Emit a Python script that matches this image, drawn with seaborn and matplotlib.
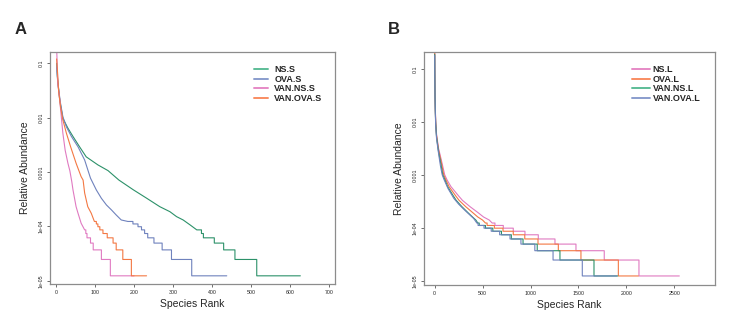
import numpy as np
import pandas as pd
import matplotlib
matplotlib.use("Agg")
import matplotlib.pyplot as plt
import seaborn as sns

# ---------------------------------------------------------------------------
# Rank-abundance data.  Each series: smooth head (rank, abundance knots),
# then the low-count tail as (level, last rank at that level) steps.
# ---------------------------------------------------------------------------
# abundance of a species seen 1..10 times (one read = 1.23e-5)
c1, c2, c3, c4, c5 = 1.23e-5, 2.46e-5, 3.69e-5, 4.92e-5, 6.15e-5
c6, c7, c8, c9, c10 = 7.38e-5, 8.61e-5, 9.84e-5, 1.107e-4, 1.23e-4

# ---- panel A (small intestine) ----
labels_a = ["NS.S", "OVA.S", "VAN.NS.S", "VAN.OVA.S"]

ns_s_rank = [1, 3, 9, 17, 30, 43, 60, 77, 107, 133, 161, 198, 232, 266, 292, 309, 326, 344, 361]
ns_s_abund = [0.1, 0.057, 0.021, 0.0097, 0.0064, 0.0045, 0.0029, 0.0019, 0.00135, 0.00106,
              7.1e-4, 4.7e-4, 3.3e-4, 2.3e-4, 1.86e-4, 1.51e-4, 1.31e-4, 1.06e-4, 8.61e-5]
ns_s_levels = [c7, c6, c5, c4, c3, c2, c1]
ns_s_ends = [373, 378, 406, 430, 459, 515, 627]

ova_s_rank = [1, 4, 11, 17, 26, 39, 56, 73, 88, 103, 116, 129, 142, 154, 167, 184]
ova_s_abund = [0.085, 0.043, 0.0184, 0.0104, 0.0068, 0.0045, 0.0029, 0.00166, 7.7e-4,
               4.67e-4, 3.28e-4, 2.47e-4, 2.0e-4, 1.62e-4, 1.31e-4, 1.23e-4]
ova_s_levels = [c10, c9, c8, c7, c6, c5, c4, c3, c2, c1]
ova_s_ends = [197, 210, 219, 227, 235, 251, 272, 296, 348, 438]

van_ns_s_rank = [1, 4, 9, 13, 17, 23, 30, 35, 40, 43, 51, 56, 64, 73]
van_ns_s_abund = [0.2, 0.043, 0.021, 0.0104, 0.0052, 0.0025, 0.00145, 0.00105, 6.6e-4,
                  4.7e-4, 2.3e-4, 1.74e-4, 1.14e-4, 8.61e-5]
van_ns_s_levels = [c7, c6, c5, c4, c3, c2, c1]
van_ns_s_ends = [76, 79, 88, 95, 116, 139, 200]

van_ova_s_rank = [1, 3, 6, 11, 17, 26, 37, 51, 64, 69, 73, 81, 90, 98]
van_ova_s_abund = [0.12, 0.075, 0.032, 0.0159, 0.0091, 0.0052, 0.0029, 0.00145, 8.2e-4,
                   7.1e-4, 4.1e-4, 2.3e-4, 1.74e-4, 1.23e-4]
van_ova_s_levels = [c10, c9, c8, c7, c6, c5, c4, c3, c2, c1]
van_ova_s_ends = [103, 107, 112, 120, 131, 146, 154, 171, 193, 232]

# ---- panel B (large intestine) ----
labels_b = ["NS.L", "OVA.L", "VAN.NS.L", "VAN.OVA.L"]

ns_l_rank = [1, 2, 4, 7, 11, 20, 40, 70, 105, 130, 170, 250, 290, 370, 450, 510, 570, 600]
ns_l_abund = [0.2, 0.09, 0.035, 0.018, 0.0105, 0.0058, 0.0032, 0.0019, 0.001, 8e-4, 6e-4,
              4e-4, 3.3e-4, 2.5e-4, 1.95e-4, 1.6e-4, 1.4e-4, 1.23e-4]
ns_l_levels = [c10, c9, c8, c7, c6, c5, c4, c3, c2, c1]
ns_l_ends = [629, 716, 820, 942, 1081, 1255, 1474, 1769, 2131, 2552]

ova_l_rank = [1, 2, 4, 7, 11, 20, 40, 70, 95, 118, 150, 220, 255, 325, 395, 450, 500, 530]
ova_l_abund = [0.2, 0.085, 0.033, 0.017, 0.0098, 0.0055, 0.003, 0.0017, 0.001, 8e-4, 6e-4,
               4e-4, 3.3e-4, 2.5e-4, 1.95e-4, 1.6e-4, 1.4e-4, 1.23e-4]
ova_l_levels = [c10, c9, c8, c7, c6, c5, c4, c3, c2, c1]
ova_l_ends = [547, 623, 713, 820, 940, 1078, 1290, 1526, 1916, 2125]

van_ns_l_rank = [1, 2, 4, 7, 11, 20, 40, 65, 85, 108, 135, 195, 225, 285, 345, 395, 430, 450]
van_ns_l_abund = [0.19, 0.08, 0.03, 0.016, 0.0092, 0.0052, 0.0028, 0.0016, 0.001, 8e-4, 6e-4,
                  4e-4, 3.3e-4, 2.5e-4, 1.95e-4, 1.6e-4, 1.4e-4, 1.23e-4]
van_ns_l_levels = [c10, c9, c8, c7, c6, c5, c4, c3, c2, c1]
van_ns_l_ends = [465, 530, 607, 697, 800, 922, 1070, 1307, 1662, 1910]

van_ova_l_rank = [1, 2, 4, 7, 11, 20, 40, 60, 79, 100, 140, 200, 250, 320, 407, 440]
van_ova_l_abund = [0.18, 0.075, 0.028, 0.015, 0.0085, 0.0048, 0.0026, 0.0015, 0.001, 8e-4,
                   5.5e-4, 3.6e-4, 2.8e-4, 2.1e-4, 1.5e-4, 1.23e-4]
van_ova_l_levels = [c10, c9, c8, c7, c6, c5, c4, c3, c2, c1]
van_ova_l_ends = [453, 515, 590, 678, 786, 900, 1045, 1235, 1540, 1900]

colors_a = ["#2c9169", "#6f82bd", "#e07ac1", "#f37843"]
colors_b = ["#e07ac1", "#f37843", "#2c9169", "#6f82bd"]
legend_colors_a = ["#5dbd97", "#8a9dcd", "#e68ac6", "#f98d62"]
legend_colors_b = ["#e68ac6", "#f98d62", "#5dbd97", "#8a9dcd"]

y_ticks = [1e-5, 1e-4, 1e-3, 1e-2, 1e-1]
y_ticklabels = ["1e-05", "1e-04", "0.001", "0.01", "0.1"]
x_ticks_a = [0, 100, 200, 300, 400, 500, 600, 700]
x_ticks_b = [0, 500, 1000, 1500, 2000, 2500]


def curve(name, ranks, abund, levels, ends):
    r, v = list(ranks), list(abund)
    for lvl, end in zip(levels, ends):
        r += [r[-1], end]
        v += [lvl, lvl]
    return pd.DataFrame({"Sample": name, "rank": r, "abundance": v})


df_a = pd.concat([
    curve(labels_a[0], ns_s_rank, ns_s_abund, ns_s_levels, ns_s_ends),
    curve(labels_a[1], ova_s_rank, ova_s_abund, ova_s_levels, ova_s_ends),
    curve(labels_a[2], van_ns_s_rank, van_ns_s_abund, van_ns_s_levels, van_ns_s_ends),
    curve(labels_a[3], van_ova_s_rank, van_ova_s_abund, van_ova_s_levels, van_ova_s_ends),
], ignore_index=True)

df_b = pd.concat([
    curve(labels_b[0], ns_l_rank, ns_l_abund, ns_l_levels, ns_l_ends),
    curve(labels_b[1], ova_l_rank, ova_l_abund, ova_l_levels, ova_l_ends),
    curve(labels_b[2], van_ns_l_rank, van_ns_l_abund, van_ns_l_levels, van_ns_l_ends),
    curve(labels_b[3], van_ova_l_rank, van_ova_l_abund, van_ova_l_levels, van_ova_l_ends),
], ignore_index=True)

sns.set_theme(style="white")
plt.rcParams["font.family"] = ["Liberation Sans", "DejaVu Sans"]

fig = plt.figure(figsize=(7.48, 3.30), dpi=100)
ax_a = fig.add_axes([50 / 748, 1 - 284 / 330, 285 / 748, (284 - 52.3) / 330])
ax_b = fig.add_axes([424 / 748, 1 - 285 / 330, 290.7 / 748, (285 - 52.3) / 330])


def draw(ax, df, labels, colors, leg_colors, xlim, ylim, xticks, leg_x, handlelen, textpad):
    sns.lineplot(data=df, x="rank", y="abundance", hue="Sample", hue_order=labels,
                 palette=colors, estimator=None, sort=False, units="Sample",
                 lw=0.8, ax=ax, legend=False)
    ax.set_yscale("log")
    ax.set_xlim(*xlim)
    ax.set_ylim(*ylim)
    ax.set_xticks(xticks)
    ax.set_xticklabels([str(t) for t in xticks], fontsize=3.8)
    ax.set_yticks(y_ticks)
    ax.set_yticklabels(y_ticklabels, fontsize=3.8, rotation=90, va="center")
    ax.minorticks_off()
    ax.tick_params(axis="both", length=2.5, width=0.6, color="#555555", pad=2,
                   bottom=True, left=True)
    for s in ax.spines.values():
        s.set_color("#8c8c8c")
        s.set_linewidth(0.9)
    ax.set_xlabel("Species Rank", fontsize=7.5, labelpad=3)
    ax.set_ylabel("Relative Abundance", fontsize=7.5, labelpad=6)
    handles = [plt.Line2D([], [], color=c, lw=1.4) for c in leg_colors]
    ax.legend(handles, labels, loc="upper left", frameon=False,
              bbox_to_anchor=(leg_x / 748, 1 - 65.5 / 330), bbox_transform=fig.transFigure,
              borderaxespad=0, borderpad=0, handlelength=handlelen,
              handletextpad=textpad, labelspacing=0.05,
              prop={"size": 6.5, "weight": "bold"})


draw(ax_a, df_a, labels_a, colors_a, legend_colors_a, (-16, 716), (0.87e-5, 0.159),
     x_ticks_a, 254, 1.55, 0.7)
draw(ax_b, df_b, labels_b, colors_b, legend_colors_b, (-111, 2921), (0.83e-5, 0.207),
     x_ticks_b, 632, 2.0, 0.3)

fig.text(15 / 748, 1 - 30 / 330, "A", fontsize=12, fontweight="bold", va="center")
fig.text(388 / 748, 1 - 30 / 330, "B", fontsize=12, fontweight="bold", va="center")

fig.savefig("out.png", dpi=100)
